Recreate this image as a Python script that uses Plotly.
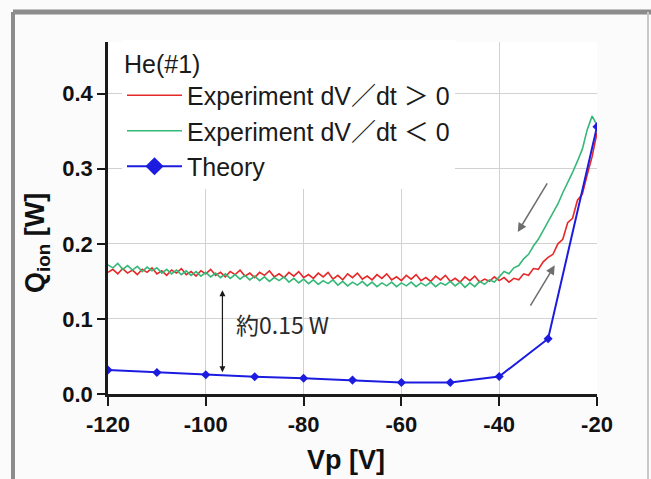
import plotly.graph_objects as go

# ---------------- data ----------------
vp_exp = list(range(-120, -19))  # -120 ... -20 V (1 V steps)

q_up = [  # Experiment dV/dt > 0 (red)
    0.162, 0.166, 0.160, 0.167, 0.161, 0.165, 0.159, 0.166, 0.162, 0.168,
    0.160, 0.164, 0.158, 0.165, 0.161, 0.167, 0.159, 0.163, 0.157, 0.164,
    0.160, 0.166, 0.158, 0.162, 0.156, 0.163, 0.159, 0.165, 0.157, 0.161,
    0.155, 0.162, 0.158, 0.164, 0.156, 0.160, 0.155, 0.162, 0.157, 0.163,
    0.155, 0.159, 0.154, 0.161, 0.156, 0.162, 0.153, 0.158, 0.152, 0.160,
    0.155, 0.161, 0.153, 0.157, 0.152, 0.159, 0.154, 0.160, 0.152, 0.156,
    0.151, 0.158, 0.153, 0.159, 0.151, 0.155, 0.150, 0.157, 0.152, 0.158,
    0.150, 0.154, 0.149, 0.156, 0.151, 0.157, 0.149, 0.153, 0.150, 0.156,
    0.151, 0.155, 0.149, 0.154, 0.152, 0.160, 0.158, 0.167, 0.166, 0.176,
    0.182, 0.186, 0.200, 0.206, 0.228, 0.234, 0.258, 0.266, 0.292, 0.316,
    0.348,
]

q_down = [  # Experiment dV/dt < 0 (green)
    0.172, 0.168, 0.174, 0.166, 0.171, 0.165, 0.170, 0.163, 0.169, 0.164,
    0.168, 0.161, 0.166, 0.160, 0.165, 0.159, 0.164, 0.158, 0.163, 0.157,
    0.162, 0.156, 0.161, 0.155, 0.160, 0.154, 0.159, 0.153, 0.158, 0.152,
    0.157, 0.151, 0.156, 0.150, 0.155, 0.151, 0.156, 0.149, 0.154, 0.148,
    0.153, 0.147, 0.152, 0.146, 0.151, 0.147, 0.152, 0.145, 0.150, 0.144,
    0.149, 0.145, 0.150, 0.144, 0.149, 0.143, 0.148, 0.144, 0.149, 0.143,
    0.148, 0.144, 0.149, 0.143, 0.148, 0.144, 0.149, 0.143, 0.148, 0.145,
    0.150, 0.144, 0.149, 0.142, 0.148, 0.143, 0.150, 0.146, 0.152, 0.149,
    0.156, 0.163, 0.160, 0.168, 0.171, 0.180, 0.186, 0.197, 0.206, 0.218,
    0.228, 0.242, 0.253, 0.268, 0.281, 0.295, 0.310, 0.326, 0.352, 0.370,
    0.358,
]

vp_theory = [-120, -110, -100, -90, -80, -70, -60, -50, -40, -30, -20]
q_theory = [0.032, 0.0287, 0.0256, 0.023, 0.021, 0.0185, 0.0154, 0.0154, 0.0234, 0.0736, 0.356]

x_ticks = [-120, -100, -80, -60, -40, -20]
y_ticks = [0.0, 0.1, 0.2, 0.3, 0.4]

RED = "#e62828"
GREEN = "#35b878"
BLUE = "#1c1ce0"

LEG_FONT = "Liberation Sans, Noto Sans CJK JP"

fig = go.Figure()
fig.add_trace(go.Scatter(x=vp_exp, y=q_up, mode="lines", name="Experiment dV／dt ＞ 0",
                         line=dict(color=RED, width=1.6)))
fig.add_trace(go.Scatter(x=vp_exp, y=q_down, mode="lines", name="Experiment dV／dt ＜ 0",
                         line=dict(color=GREEN, width=1.6)))
fig.add_trace(go.Scatter(x=vp_theory, y=q_theory, mode="lines+markers", name="Theory",
                         showlegend=False,
                         line=dict(color=BLUE, width=2),
                         marker=dict(symbol="diamond", size=7, color=BLUE)))
# legend proxy with larger diamond
fig.add_trace(go.Scatter(x=[None], y=[None], mode="lines+markers", name="Theory",
                         line=dict(color=BLUE, width=2),
                         marker=dict(symbol="diamond", size=14, color=BLUE)))

L, R, T, B = 108, 54, 42, 85
W, H = 651, 479
pw = W - L - R
ph = H - T - B


def px2paper(px, py):
    return (px - L) / pw, (H - B - py) / ph


annotations = []
# gray direction arrows
annotations.append(dict(x=-36.2, y=0.2157, ax=-30.0, ay=0.2824, xref="x", yref="y",
                        axref="x", ayref="y", showarrow=True, arrowhead=2, arrowsize=1.2,
                        arrowwidth=1.5, arrowcolor="#6e6e6e", text=""))
annotations.append(dict(x=-28.65, y=0.1713, ax=-33.8, ay=0.1157, xref="x", yref="y",
                        axref="x", ayref="y", showarrow=True, arrowhead=2, arrowsize=1.2,
                        arrowwidth=1.5, arrowcolor="#6e6e6e", text=""))
# double arrow
annotations.append(dict(x=-96.6, y=0.029, ax=-96.6, ay=0.140, xref="x", yref="y",
                        axref="x", ayref="y", showarrow=True, arrowhead=2, startarrowhead=2,
                        arrowside="end+start", arrowsize=1, arrowwidth=1.2,
                        arrowcolor="#1a1a1a", text=""))
annotations.append(dict(x=-94.3, y=0.093, xref="x", yref="y", text="約0.15 W",
                        showarrow=False, xanchor="left", yanchor="middle",
                        font=dict(family="Noto Sans CJK JP, Liberation Sans", size=23, color="#2a2a2a")))
# axis titles
xt = px2paper(346, 460)
annotations.append(dict(x=xt[0], y=xt[1], xref="paper", yref="paper", text="Vp [V]",
                        showarrow=False, xanchor="center", yanchor="middle",
                        font=dict(family="Liberation Sans", size=27, color="#111", weight="bold")))
yt = px2paper(37, 243)
annotations.append(dict(x=yt[0], y=yt[1], xref="paper", yref="paper",
                        text="Q<sub>ion</sub> [W]", textangle=-90,
                        showarrow=False, xanchor="center", yanchor="middle",
                        font=dict(family="Liberation Sans", size=27, color="#111", weight="bold")))

# slide frame
fl, ft = px2paper(13, 12)
fr, _ = px2paper(648, 12)
_, fb = px2paper(13, 520)
shapes = [
    dict(type="line", xref="paper", yref="paper", x0=fl, x1=fl, y0=fb, y1=ft,
         line=dict(color="#8c8c8c", width=4), layer="below"),
    dict(type="line", xref="paper", yref="paper", x0=fl, x1=fr + 0.01, y0=ft, y1=ft,
         line=dict(color="#8c8c8c", width=5), layer="below"),
    dict(type="line", xref="paper", yref="paper", x0=fr, x1=fr, y0=fb, y1=ft,
         line=dict(color="#c8c8c8", width=2), layer="below"),
]

lx, ly = px2paper(122, 40)

fig.update_layout(
    width=W, height=H,
    margin=dict(l=L, r=R, t=T, b=B, pad=0),
    paper_bgcolor="#fbfbfb",
    plot_bgcolor="#ffffff",
    font=dict(family="Liberation Sans", color="#111"),
    showlegend=True,
    legend=dict(x=lx, y=ly, xanchor="left", yanchor="top",
                bgcolor="#ffffff", borderwidth=0,
                font=dict(family=LEG_FONT, size=25, color="#1a1a1a"),
                title=dict(text="He(#1)", font=dict(family=LEG_FONT, size=25, color="#1a1a1a")),
                tracegroupgap=0, itemwidth=55),
    xaxis=dict(range=[-120, -20], tickvals=x_ticks, ticktext=[str(v) for v in x_ticks],
               showgrid=True, gridcolor="#d2d2d2", gridwidth=1,
               showline=True, linecolor="#1a1a1a", linewidth=2.5,
               ticks="outside", ticklen=9, tickwidth=2, tickcolor="#1a1a1a",
               tickfont=dict(family="Liberation Sans", size=22, color="#111", weight="bold"),
               zeroline=False),
    yaxis=dict(range=[0, 0.4687], tickvals=y_ticks, ticktext=[f"{v:.1f}" for v in y_ticks],
               showgrid=True, gridcolor="#d2d2d2", gridwidth=1,
               showline=True, linecolor="#1a1a1a", linewidth=2.5,
               ticks="outside", ticklen=8, tickwidth=2, tickcolor="#1a1a1a",
               tickfont=dict(family="Liberation Sans", size=22, color="#111", weight="bold"),
               zeroline=False),
    annotations=annotations,
    shapes=shapes,
)

fig.write_html("out.html", config={"displayModeBar": False},
               post_script="document.body.style.margin='0px';document.body.style.padding='0px';")
